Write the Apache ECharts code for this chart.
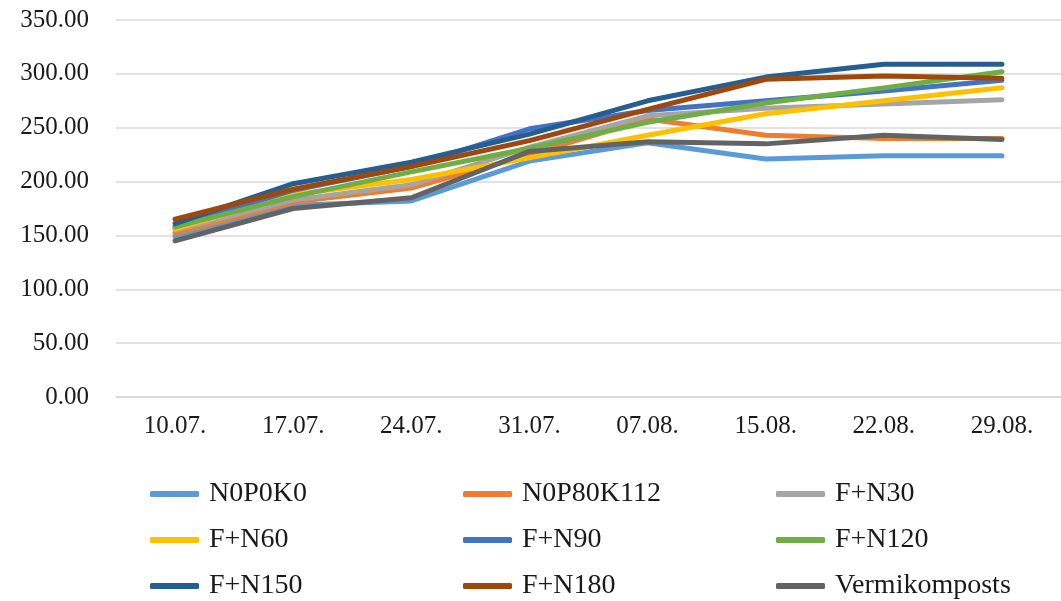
<!DOCTYPE html>
<html>
<head>
<meta charset="utf-8">
<script src="https://cdn.jsdelivr.net/npm/echarts@6/dist/echarts.min.js"></script>
<style>
  html, body { margin: 0; padding: 0; background: #fff; }
  #chart { width: 1061px; height: 601px; }
</style>
</head>
<body>
<div id="chart"></div>
<script>
// Sampling dates
const dates = ['10.07.', '17.07.', '24.07.', '31.07.', '07.08.', '15.08.', '22.08.', '29.08.'];

// Measured values per treatment
const n0p0k0      = [149, 178, 182, 219, 236, 221, 224, 224];
const n0p80k112   = [152, 181, 194, 225, 258, 243, 240, 240];
const fN30        = [155, 183, 197, 232, 261, 268, 272, 276];
const fN60        = [156, 188, 202, 222, 243, 263, 275, 287];
const fN90        = [158, 192, 214, 249, 266, 275, 284, 294];
const fN120       = [158, 186, 209, 231, 255, 273, 287, 302];
const fN150       = [161, 198, 218, 244, 275, 297, 309, 309];
const fN180       = [165, 193, 214, 238, 267, 295, 298, 296];
const vermikomp   = [145, 175, 185, 228, 237, 235, 243, 239];

const seriesNames = ['N0P0K0', 'N0P80K112', 'F+N30', 'F+N60', 'F+N90', 'F+N120', 'F+N150', 'F+N180', 'Vermikomposts'];
const seriesData  = [n0p0k0, n0p80k112, fN30, fN60, fN90, fN120, fN150, fN180, vermikomp];
const colors = ['#5B9BD5', '#ED7D31', '#A5A5A5', '#FFC000', '#4472C4', '#70AD47', '#255E91', '#9E480E', '#636363'];

const yMin = 0, yMax = 350, yStep = 50;

const font = '"Liberation Serif", "Times New Roman", serif';
const textColor = '#1a1a1a';

// Legend: a 3 x 3 grid, one legend component per entry
const legendCols = [150, 463, 776];
const legendRows = [480, 526, 572];
const legends = seriesNames.map((name, i) => ({
  orient: 'horizontal',
  left: legendCols[i % 3],
  top: legendRows[Math.floor(i / 3)],
  padding: 0,
  itemWidth: 49,
  itemHeight: 6,
  icon: 'roundRect',
  data: [name],
  textStyle: { fontFamily: font, fontSize: 28, lineHeight: 28, color: textColor, padding: [0, 0, 0, 5] },
  selectedMode: false
}));

const chart = echarts.init(document.getElementById('chart'), null, { renderer: 'canvas' });
chart.setOption({
  animation: false,
  color: colors,
  grid: { left: 116, top: 20, width: 949, height: 377, containLabel: false },
  legend: legends,
  xAxis: {
    type: 'category',
    data: dates,
    boundaryGap: true,
    axisLine: { show: true, lineStyle: { color: '#d9d9d9', width: 1.5 } },
    axisTick: { show: false },
    axisLabel: { fontFamily: font, fontSize: 25, color: textColor, margin: 17 }
  },
  yAxis: {
    type: 'value',
    min: yMin,
    max: yMax,
    interval: yStep,
    axisLine: { show: false },
    axisTick: { show: false },
    splitLine: { lineStyle: { color: '#d9d9d9', width: 1.5 } },
    axisLabel: {
      fontFamily: font, fontSize: 25, color: textColor, margin: 27,
      formatter: v => v.toFixed(2)
    }
  },
  series: seriesNames.map((name, i) => ({
    name: name,
    type: 'line',
    data: seriesData[i],
    showSymbol: false,
    symbol: 'none',
    lineStyle: { width: 5, color: colors[i], cap: 'round', join: 'round' },
    itemStyle: { color: colors[i] },
    emphasis: { disabled: true }
  }))
});
</script>
</body>
</html>
